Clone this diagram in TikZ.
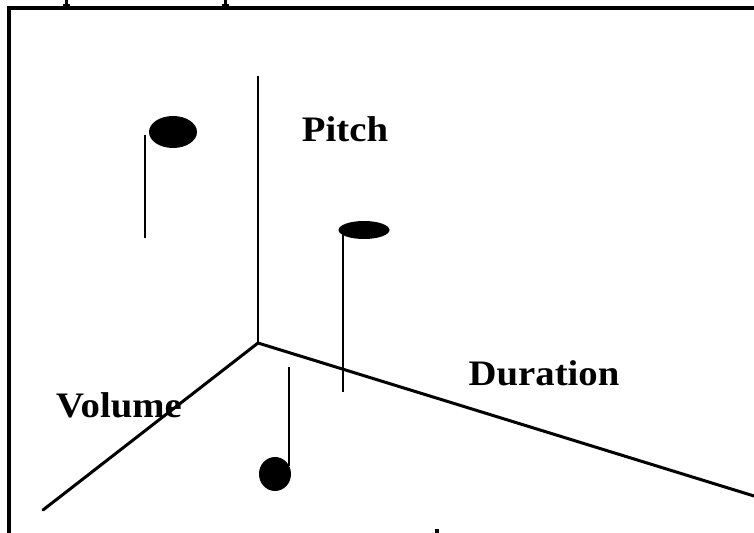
\documentclass[tikz,border=0pt]{standalone}
\usepackage{fontspec}
\setmainfont{Liberation Serif}
\newfontfamily\labfont[FakeStretch=1.08]{Liberation Serif}
\usetikzlibrary{shapes.geometric}
\begin{document}
\begin{tikzpicture}[x=1bp,y=-1bp,
  frameline/.style={line width=4bp},
  axisline/.style={line width=3bp, line cap=round},
  stemline/.style={line width=2.4bp},
  head/.style={ellipse, fill=black, draw=none, inner sep=0pt},
  lab/.style={font=\labfont\bfseries\fontsize{36}{40}\selectfont, inner sep=0pt, anchor=base}]
\useasboundingbox (0,0) rectangle (754,533);
% frame
\draw[frameline] (9,533) |- (755,8);
% cut-off glyph fragments
\fill (64.5,0) rectangle (67.5,6);
\fill (62.5,4) rectangle (69.5,6.5);
\fill (223.5,0) rectangle (226.5,6);
\fill (221.5,4) rectangle (228.5,6.5);
\fill (434.5,529) rectangle (438.5,533);
% labels
\node[lab] (pitch) at (345,142) {Pitch};
\node[lab] (duration) at (544,385) {Duration};
\node[lab] (volume) at (119,417) {Volume};
% axes
\coordinate (O) at (258,343);
\coordinate (P) at (258,76);
\coordinate (D) at (756,496.6);
\coordinate (V) at (43,510);
\draw[line width=2.5bp] (P) -- (O);
\draw[axisline] (O) -- (D);
\draw[axisline] (O) -- (V);
% notes
\node[head, minimum width=48bp, minimum height=32bp] (h1) at (173,132) {};
\coordinate (s1a) at (145,135);
\coordinate (s1b) at (145,238);
\draw[stemline] (s1a) -- (s1b);
\node[head, minimum width=51bp, minimum height=18bp] (h2) at (364,230) {};
\coordinate (s2a) at (343,231);
\coordinate (s2b) at (343,392);
\draw[stemline] (s2a) -- (s2b);
\node[head, minimum width=32bp, minimum height=34bp] (h3) at (275,474) {};
\coordinate (s3a) at (289,367);
\coordinate (s3b) at (289,466);
\draw[stemline] (s3a) -- (s3b);
\end{tikzpicture}
\end{document}
